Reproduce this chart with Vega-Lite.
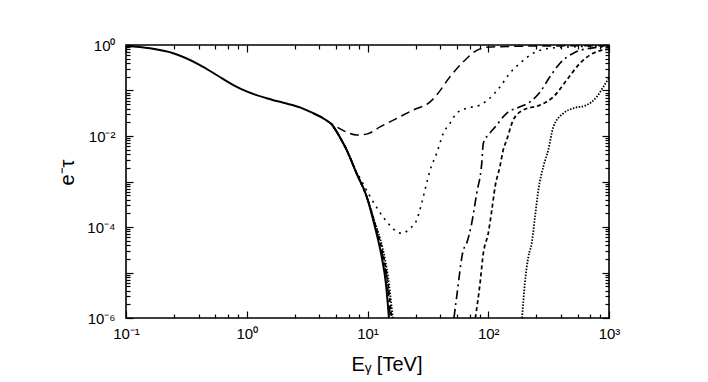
{
  "$schema": "https://vega.github.io/schema/vega-lite/v6.json",
  "width": 483,
  "height": 273,
  "autosize": "none",
  "padding": {"left": 126, "top": 45, "right": 99, "bottom": 64},
  "background": "white",
  "config": {
    "view": {"stroke": "black", "strokeWidth": 1.6},
    "axis": {"labelFont": "Liberation Sans", "titleFont": "Liberation Sans", "labelColor": "black", "titleColor": "black", "tickColor": "black", "tickWidth": 1.2, "grid": false, "domain": false, "titleFontWeight": "normal", "labelOverlap": false, "labelFlush": false, "labelBound": false}
  },
  "data": {"values": [
    {"curve": "solid", "branch": "solid", "E": 0.1, "v": 0.95},
    {"curve": "solid", "branch": "solid", "E": 0.158, "v": 0.845},
    {"curve": "solid", "branch": "solid", "E": 0.246, "v": 0.66},
    {"curve": "solid", "branch": "solid", "E": 0.41, "v": 0.363},
    {"curve": "solid", "branch": "solid", "E": 0.563, "v": 0.219},
    {"curve": "solid", "branch": "solid", "E": 0.775, "v": 0.132},
    {"curve": "solid", "branch": "solid", "E": 1.02, "v": 0.093},
    {"curve": "solid", "branch": "solid", "E": 1.46, "v": 0.0676},
    {"curve": "solid", "branch": "solid", "E": 2.01, "v": 0.0537},
    {"curve": "solid", "branch": "solid", "E": 2.76, "v": 0.0427},
    {"curve": "solid", "branch": "solid", "E": 3.56, "v": 0.0316},
    {"curve": "solid", "branch": "solid", "E": 4.3, "v": 0.0245},
    {"curve": "solid", "branch": "solid", "E": 5.21, "v": 0.0162},
    {"curve": "solid", "branch": "solid", "E": 5.89, "v": 0.0095},
    {"curve": "solid", "branch": "solid", "E": 6.73, "v": 0.0049},
    {"curve": "solid", "branch": "solid", "E": 8.13, "v": 0.0015},
    {"curve": "solid", "branch": "solid", "E": 9.84, "v": 0.000468},
    {"curve": "solid", "branch": "solid", "E": 11.5, "v": 0.000102},
    {"curve": "solid", "branch": "solid", "E": 13.1, "v": 0.0000224},
    {"curve": "solid", "branch": "solid", "E": 14.2, "v": 0.00000575},
    {"curve": "solid", "branch": "solid", "E": 15.05, "v": 0.000001},

    {"curve": "dash", "branch": "dash", "E": 3.56, "v": 0.0316},
    {"curve": "dash", "branch": "dash", "E": 4.3, "v": 0.0245},
    {"curve": "dash", "branch": "dash", "E": 5.56, "v": 0.0158},
    {"curve": "dash", "branch": "dash", "E": 6.8, "v": 0.012},
    {"curve": "dash", "branch": "dash", "E": 8.15, "v": 0.0105},
    {"curve": "dash", "branch": "dash", "E": 9.84, "v": 0.011},
    {"curve": "dash", "branch": "dash", "E": 12.7, "v": 0.0158},
    {"curve": "dash", "branch": "dash", "E": 17.5, "v": 0.0245},
    {"curve": "dash", "branch": "dash", "E": 23.9, "v": 0.0372},
    {"curve": "dash", "branch": "dash", "E": 33, "v": 0.0562},
    {"curve": "dash", "branch": "dash", "E": 37.4, "v": 0.0794},
    {"curve": "dash", "branch": "dash", "E": 48.2, "v": 0.2},
    {"curve": "dash", "branch": "dash", "E": 62.1, "v": 0.427},
    {"curve": "dash", "branch": "dash", "E": 80.2, "v": 0.759},
    {"curve": "dash", "branch": "dash", "E": 97, "v": 0.891},
    {"curve": "dash", "branch": "dash", "E": 200, "v": 0.944},
    {"curve": "dash", "branch": "dash", "E": 1000, "v": 0.966},

    {"curve": "dot", "branch": "dot", "E": 5.21, "v": 0.0162},
    {"curve": "dot", "branch": "dot", "E": 6.73, "v": 0.0049},
    {"curve": "dot", "branch": "dot", "E": 8.13, "v": 0.0016},
    {"curve": "dot", "branch": "dot", "E": 8.9, "v": 0.00105},
    {"curve": "dot", "branch": "dot", "E": 10.5, "v": 0.000468},
    {"curve": "dot", "branch": "dot", "E": 14.4, "v": 0.000132},
    {"curve": "dot", "branch": "dot", "E": 17.5, "v": 0.0000794},
    {"curve": "dot", "branch": "dot", "E": 19.2, "v": 0.0000724},
    {"curve": "dot", "branch": "dot", "E": 22.5, "v": 0.0000933},
    {"curve": "dot", "branch": "dot", "E": 25.5, "v": 0.000141},
    {"curve": "dot", "branch": "dot", "E": 28.1, "v": 0.000331},
    {"curve": "dot", "branch": "dot", "E": 29.9, "v": 0.000646},
    {"curve": "dot", "branch": "dot", "E": 33, "v": 0.00178},
    {"curve": "dot", "branch": "dot", "E": 37.4, "v": 0.00417},
    {"curve": "dot", "branch": "dot", "E": 42.5, "v": 0.0115},
    {"curve": "dot", "branch": "dot", "E": 48.2, "v": 0.0191},
    {"curve": "dot", "branch": "dot", "E": 54.8, "v": 0.0316},
    {"curve": "dot", "branch": "dot", "E": 66.2, "v": 0.0407},
    {"curve": "dot", "branch": "dot", "E": 85.5, "v": 0.0479},
    {"curve": "dot", "branch": "dot", "E": 103, "v": 0.0676},
    {"curve": "dot", "branch": "dot", "E": 125, "v": 0.12},
    {"curve": "dot", "branch": "dot", "E": 151, "v": 0.24},
    {"curve": "dot", "branch": "dot", "E": 183, "v": 0.398},
    {"curve": "dot", "branch": "dot", "E": 236, "v": 0.661},
    {"curve": "dot", "branch": "dot", "E": 324, "v": 0.851},
    {"curve": "dot", "branch": "dot", "E": 631, "v": 0.933},
    {"curve": "dot", "branch": "dot", "E": 1000, "v": 0.955},

    {"curve": "dashdot", "branch": "dashdot_a", "E": 5.21, "v": 0.0162},
    {"curve": "dashdot", "branch": "dashdot_a", "E": 6.73, "v": 0.0049},
    {"curve": "dashdot", "branch": "dashdot_a", "E": 8.13, "v": 0.0015},
    {"curve": "dashdot", "branch": "dashdot_a", "E": 9.84, "v": 0.000468},
    {"curve": "dashdot", "branch": "dashdot_a", "E": 11.5, "v": 0.000112},
    {"curve": "dashdot", "branch": "dashdot_a", "E": 13.1, "v": 0.0000282},
    {"curve": "dashdot", "branch": "dashdot_a", "E": 14.5, "v": 0.0000063},
    {"curve": "dashdot", "branch": "dashdot_a", "E": 15.5, "v": 0.000001},
    {"curve": "dashdot", "branch": "dashdot_b", "E": 52, "v": 0.000001},
    {"curve": "dashdot", "branch": "dashdot_b", "E": 54.8, "v": 0.00000295},
    {"curve": "dashdot", "branch": "dashdot_b", "E": 62.1, "v": 0.0000309},
    {"curve": "dashdot", "branch": "dashdot_b", "E": 66.2, "v": 0.0000437},
    {"curve": "dashdot", "branch": "dashdot_b", "E": 72.9, "v": 0.00012},
    {"curve": "dashdot", "branch": "dashdot_b", "E": 80.2, "v": 0.00055},
    {"curve": "dashdot", "branch": "dashdot_b", "E": 88.3, "v": 0.00251},
    {"curve": "dashdot", "branch": "dashdot_b", "E": 91, "v": 0.00692},
    {"curve": "dashdot", "branch": "dashdot_b", "E": 103, "v": 0.0115},
    {"curve": "dashdot", "branch": "dashdot_b", "E": 114, "v": 0.0158},
    {"curve": "dashdot", "branch": "dashdot_b", "E": 142, "v": 0.0316},
    {"curve": "dashdot", "branch": "dashdot_b", "E": 183, "v": 0.0437},
    {"curve": "dashdot", "branch": "dashdot_b", "E": 222, "v": 0.0562},
    {"curve": "dashdot", "branch": "dashdot_b", "E": 269, "v": 0.0933},
    {"curve": "dashdot", "branch": "dashdot_b", "E": 324, "v": 0.2},
    {"curve": "dashdot", "branch": "dashdot_b", "E": 393, "v": 0.398},
    {"curve": "dashdot", "branch": "dashdot_b", "E": 507, "v": 0.661},
    {"curve": "dashdot", "branch": "dashdot_b", "E": 697, "v": 0.851},
    {"curve": "dashdot", "branch": "dashdot_b", "E": 1000, "v": 0.923},

    {"curve": "shortdash", "branch": "shortdash_a", "E": 5.21, "v": 0.0162},
    {"curve": "shortdash", "branch": "shortdash_a", "E": 6.73, "v": 0.0049},
    {"curve": "shortdash", "branch": "shortdash_a", "E": 8.13, "v": 0.0015},
    {"curve": "shortdash", "branch": "shortdash_a", "E": 9.84, "v": 0.000468},
    {"curve": "shortdash", "branch": "shortdash_a", "E": 11.5, "v": 0.00012},
    {"curve": "shortdash", "branch": "shortdash_a", "E": 13.2, "v": 0.0000316},
    {"curve": "shortdash", "branch": "shortdash_a", "E": 14.6, "v": 0.0000071},
    {"curve": "shortdash", "branch": "shortdash_a", "E": 15.85, "v": 0.000001},
    {"curve": "shortdash", "branch": "shortdash_b", "E": 78.2, "v": 0.000001},
    {"curve": "shortdash", "branch": "shortdash_b", "E": 85.5, "v": 0.00000575},
    {"curve": "shortdash", "branch": "shortdash_b", "E": 91, "v": 0.0000263},
    {"curve": "shortdash", "branch": "shortdash_b", "E": 100, "v": 0.0000724},
    {"curve": "shortdash", "branch": "shortdash_b", "E": 107, "v": 0.000234},
    {"curve": "shortdash", "branch": "shortdash_b", "E": 114, "v": 0.000776},
    {"curve": "shortdash", "branch": "shortdash_b", "E": 125, "v": 0.00214},
    {"curve": "shortdash", "branch": "shortdash_b", "E": 133, "v": 0.0049},
    {"curve": "shortdash", "branch": "shortdash_b", "E": 142, "v": 0.00813},
    {"curve": "shortdash", "branch": "shortdash_b", "E": 161, "v": 0.0224},
    {"curve": "shortdash", "branch": "shortdash_b", "E": 195, "v": 0.0372},
    {"curve": "shortdash", "branch": "shortdash_b", "E": 269, "v": 0.0479},
    {"curve": "shortdash", "branch": "shortdash_b", "E": 346, "v": 0.0724},
    {"curve": "shortdash", "branch": "shortdash_b", "E": 447, "v": 0.17},
    {"curve": "shortdash", "branch": "shortdash_b", "E": 575, "v": 0.398},
    {"curve": "shortdash", "branch": "shortdash_b", "E": 741, "v": 0.661},
    {"curve": "shortdash", "branch": "shortdash_b", "E": 1000, "v": 0.813},

    {"curve": "finedot", "branch": "finedot_a", "E": 5.21, "v": 0.0162},
    {"curve": "finedot", "branch": "finedot_a", "E": 6.73, "v": 0.0049},
    {"curve": "finedot", "branch": "finedot_a", "E": 8.13, "v": 0.0015},
    {"curve": "finedot", "branch": "finedot_a", "E": 9.84, "v": 0.000468},
    {"curve": "finedot", "branch": "finedot_a", "E": 11.5, "v": 0.000126},
    {"curve": "finedot", "branch": "finedot_a", "E": 13.3, "v": 0.0000355},
    {"curve": "finedot", "branch": "finedot_a", "E": 14.8, "v": 0.0000079},
    {"curve": "finedot", "branch": "finedot_a", "E": 16.2, "v": 0.000001},
    {"curve": "finedot", "branch": "finedot_b", "E": 190.5, "v": 0.000001},
    {"curve": "finedot", "branch": "finedot_b", "E": 201, "v": 0.00000575},
    {"curve": "finedot", "branch": "finedot_b", "E": 215, "v": 0.0000224},
    {"curve": "finedot", "branch": "finedot_b", "E": 229, "v": 0.0000437},
    {"curve": "finedot", "branch": "finedot_b", "E": 244, "v": 0.00017},
    {"curve": "finedot", "branch": "finedot_b", "E": 260, "v": 0.000646},
    {"curve": "finedot", "branch": "finedot_b", "E": 286, "v": 0.00214},
    {"curve": "finedot", "branch": "finedot_b", "E": 314, "v": 0.0049},
    {"curve": "finedot", "branch": "finedot_b", "E": 346, "v": 0.0158},
    {"curve": "finedot", "branch": "finedot_b", "E": 419, "v": 0.0316},
    {"curve": "finedot", "branch": "finedot_b", "E": 507, "v": 0.0407},
    {"curve": "finedot", "branch": "finedot_b", "E": 653, "v": 0.0479},
    {"curve": "finedot", "branch": "finedot_b", "E": 791, "v": 0.0724},
    {"curve": "finedot", "branch": "finedot_b", "E": 897, "v": 0.12},
    {"curve": "finedot", "branch": "finedot_b", "E": 1000, "v": 0.19}
  ]},
  "layer": [
    {
      "transform": [{"filter": "datum.curve != 'solid'"}],
      "mark": {"type": "line", "interpolate": "monotone", "color": "black", "clip": true},
      "encoding": {
        "x": {"field": "E", "type": "quantitative", "scale": {"type": "log", "domain": [0.1, 1000]},
          "axis": {"orient": "bottom", "values": [0.1,0.25,0.4,0.55,0.7,0.85,1,2.5,4,5.5,7,8.5,10,25,40,55,70,85,100,250,400,550,700,850,1000],
            "labelExpr": "datum.value == 0.1 ? '10⁻¹' : datum.value == 1 ? '10⁰' : datum.value == 10 ? '10¹' : datum.value == 100 ? '10²' : datum.value == 1000 ? '10³' : ''",
            "tickSize": {"condition": {"test": "indexof([0.1,1,10,100,1000], datum.value) >= 0", "value": -7}, "value": -4},
            "labelFontSize": 15, "labelPadding": 27, "labelBaseline": "alphabetic",
            "title": "Eᵧ [TeV]", "titleFontSize": 20, "titleX": 260.5, "titleY": 52, "titleBaseline": "alphabetic", "titleAlign": "center", "titleAnchor": null}},
        "y": {"field": "v", "type": "quantitative", "scale": {"type": "log", "domain": [0.000001, 1]},
          "axis": {"orient": "left", "values": [1,0.9,0.8,0.7,0.6,0.5,0.4,0.3,0.2,0.1,0.09,0.08,0.07,0.06,0.05,0.04,0.03,0.02,0.01,0.009,0.008,0.007,0.006,0.005,0.004,0.003,0.002,0.001,0.0009,0.0008,0.0007,0.0006,0.0005,0.0004,0.0003,0.0002,0.0001,0.00009,0.00008,0.00007,0.00006,0.00005,0.00004,0.00003,0.00002,0.00001,0.000009,0.000008,0.000007,0.000006,0.000005,0.000004,0.000003,0.000002,0.000001],
            "labelExpr": "datum.value == 1 ? '10⁰' : datum.value == 0.01 ? '10⁻²' : datum.value == 0.0001 ? '10⁻⁴' : datum.value == 0.000001 ? '10⁻⁶' : ''",
            "tickSize": {"condition": {"test": "indexof([1,0.1,0.01,0.001,0.0001,0.00001,0.000001], datum.value) >= 0", "value": -7}, "value": -4},
            "labelFontSize": 15, "labelPadding": 18, "labelBaseline": "middle", "labelAlign": "right",
            "title": "e⁻τ", "titleFontSize": 20, "titleAngle": -90, "titleX": -52.5, "titleY": 127, "titleBaseline": "alphabetic", "titleAlign": "center", "titleAnchor": null}},
        "detail": {"field": "branch"},
        "strokeDash": {"field": "curve", "type": "nominal", "scale": {"domain": ["dash", "dot", "dashdot", "shortdash", "finedot"], "range": [[9, 5], [2, 5], [9, 4, 2, 4], [4, 3], [1.5, 1.5]]}, "legend": null},
        "strokeWidth": {"field": "curve", "type": "ordinal", "scale": {"domain": ["dash", "dot", "dashdot", "shortdash", "finedot"], "range": [1.5, 1.8, 1.5, 1.5, 1]}, "legend": null}
      }
    },
    {
      "transform": [{"filter": "datum.curve == 'solid'"}],
      "mark": {"type": "line", "interpolate": "monotone", "color": "black", "strokeWidth": 2, "clip": true},
      "encoding": {
        "x": {"field": "E", "type": "quantitative", "scale": {"type": "log", "domain": [0.1, 1000]},
          "axis": {"orient": "top", "values": [0.1,0.25,0.4,0.55,0.7,0.85,1,2.5,4,5.5,7,8.5,10,25,40,55,70,85,100,250,400,550,700,850,1000], "labels": false, "title": null,
            "tickSize": {"condition": {"test": "indexof([0.1,1,10,100,1000], datum.value) >= 0", "value": -7}, "value": -4}}},
        "y": {"field": "v", "type": "quantitative", "scale": {"type": "log", "domain": [0.000001, 1]},
          "axis": {"orient": "right", "values": [1,0.9,0.8,0.7,0.6,0.5,0.4,0.3,0.2,0.1,0.09,0.08,0.07,0.06,0.05,0.04,0.03,0.02,0.01,0.009,0.008,0.007,0.006,0.005,0.004,0.003,0.002,0.001,0.0009,0.0008,0.0007,0.0006,0.0005,0.0004,0.0003,0.0002,0.0001,0.00009,0.00008,0.00007,0.00006,0.00005,0.00004,0.00003,0.00002,0.00001,0.000009,0.000008,0.000007,0.000006,0.000005,0.000004,0.000003,0.000002,0.000001], "labels": false, "title": null,
            "tickSize": {"condition": {"test": "indexof([1,0.1,0.01,0.001,0.0001,0.00001,0.000001], datum.value) >= 0", "value": -7}, "value": -4}}}
      }
    }
  ],
  "resolve": {"axis": {"x": "independent", "y": "independent"}}
}
